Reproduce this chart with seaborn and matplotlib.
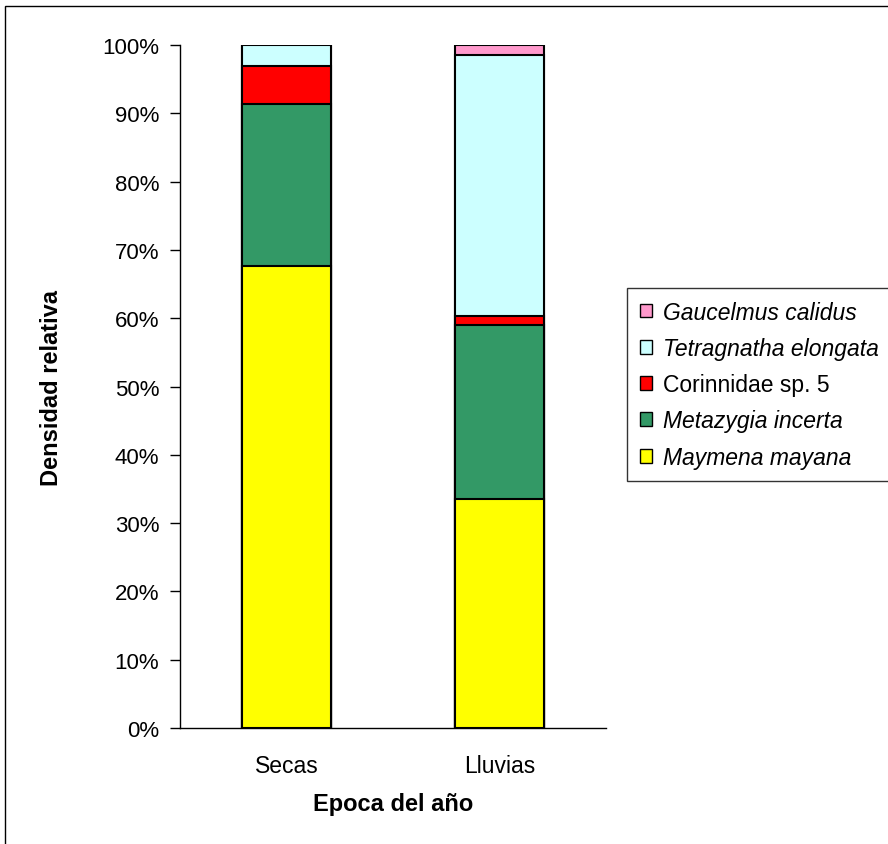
import matplotlib
matplotlib.use('Agg')
import matplotlib.pyplot as plt
import matplotlib.patches as mpatches
import seaborn as sns
import pandas as pd
import numpy as np

# relative density (%) per season, bottom to top of the stack
epocas = ['Secas', 'Lluvias']
especies = ['Maymena mayana', 'Metazygia incerta', 'Corinnidae sp. 5',
            'Tetragnatha elongata', 'Gaucelmus calidus']
maymena = [67.6, 33.5]
metazygia = [23.8, 25.5]
corinnidae = [5.5, 1.3]
tetragnatha = [3.1, 38.2]
gaucelmus = [0.0, 1.5]
colores = ['#FFFF00', '#339966', '#FF0000', '#CCFFFF', '#FF99CC']
italica = [True, True, False, True, True]

df = pd.DataFrame({'epoca': epocas, especies[0]: maymena, especies[1]: metazygia,
                   especies[2]: corinnidae, especies[3]: tetragnatha,
                   especies[4]: gaucelmus})
cum = df[especies].cumsum(axis=1)
cum['epoca'] = df['epoca']

sns.set_style('white')
plt.rcParams['font.family'] = ['Liberation Sans', 'DejaVu Sans']
plt.rcParams['text.color'] = 'black'
plt.rcParams['axes.labelcolor'] = 'black'
plt.rcParams['xtick.color'] = 'black'
plt.rcParams['ytick.color'] = 'black'

fig = plt.figure(figsize=(8.88, 8.45), dpi=100)
ax = fig.add_axes([180 / 888, 1 - 729 / 845, 426 / 888, 683 / 845])

# draw cumulative bars from tallest to shortest so they stack visually
for sp, col in reversed(list(zip(especies, colores))):
    sns.barplot(data=cum, x='epoca', y=sp, color=col, width=0.415,
                edgecolor='black', linewidth=1.5, saturation=1, ax=ax)

ax.set_xlim(-0.5, 1.5)
ax.set_ylim(0, 100)
ax.set_yticks(np.arange(0, 101, 10))
ax.set_yticklabels([f'{v}%' for v in range(0, 101, 10)], fontsize=16)
ax.set_xticks([0, 1])
ax.set_xticklabels(epocas, fontsize=16.5)
ax.tick_params(axis='x', length=0, pad=18.5)
ax.set_xticks([-0.5, 0.5, 1.5], minor=True)
ax.tick_params(axis='x', which='minor', length=7, width=1, color='black', direction='out')
ax.tick_params(axis='y', length=7, width=1, color='black', direction='out', left=True, pad=8)
for s in ['top', 'right']:
    ax.spines[s].set_visible(False)
for s in ['left', 'bottom']:
    ax.spines[s].set_color('black')
    ax.spines[s].set_linewidth(1)

ax.set_xlabel('Epoca del año', fontsize=17, fontweight='bold', labelpad=11)
ax.set_ylabel('Densidad relativa', fontsize=17, fontweight='bold', labelpad=28)

# legend, top entry first
handles = [mpatches.Patch(facecolor=c, edgecolor='black', linewidth=1)
           for c in reversed(colores)]
leg = fig.legend(handles, list(reversed(especies)), loc='upper left',
                 bbox_to_anchor=(627 / 888, 1 - 289 / 845), frameon=True,
                 fancybox=False, edgecolor='black', fontsize=16.5,
                 handlelength=0.55, handleheight=0.55, handletextpad=0.45,
                 labelspacing=0.58, borderpad=0.55, borderaxespad=0)
leg.get_frame().set_linewidth(1)
for t, it in zip(leg.get_texts(), reversed(italica)):
    if it:
        t.set_fontstyle('italic')

# outer chart border (extends past the right and bottom edges)
fig.patches.append(mpatches.Rectangle((5 / 888, -0.1), 1.2, 1 - 7 / 845 + 0.1,
                                      transform=fig.transFigure, fill=False,
                                      edgecolor='black', linewidth=1))

fig.savefig('out.png', dpi=100)
